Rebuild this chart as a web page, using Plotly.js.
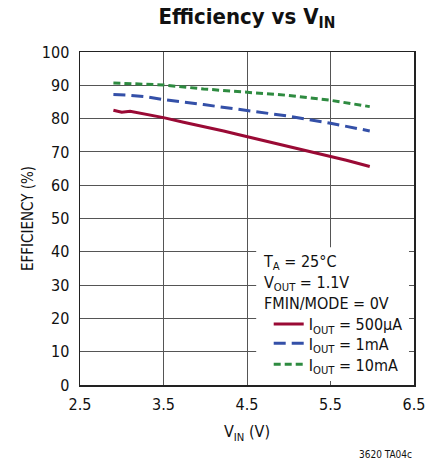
<!DOCTYPE html>
<html><head><meta charset="utf-8">
<script src="https://cdn.plot.ly/plotly-3.0.1.min.js"></script>
<style>body{margin:0;background:#fff}#c{width:440px;height:464px}</style>
</head><body><div id="c"></div>
<script>
const FONT = '"Liberation Sans Narrow", "DejaVu Sans Condensed", "Liberation Sans", sans-serif';
const vin500 = [2.9, 3.0, 3.1, 3.26, 3.5, 3.74, 3.82, 4.02, 4.22, 4.38, 4.5, 4.66, 4.9, 5.05, 5.29, 5.5, 5.69, 5.97];
const eff500 = [82.5, 81.9, 82.2, 81.5, 80.3, 78.9, 78.5, 77.5, 76.3, 75.3, 74.6, 73.7, 72.3, 71.3, 70.0, 68.8, 67.5, 65.6];
const vin1m = [2.9, 3.1, 3.3, 3.5, 3.98, 4.5, 4.98, 5.5, 5.97];
const eff1m = [87.2, 87.0, 86.5, 85.7, 84.2, 82.5, 80.8, 78.6, 76.3];
const vin10m = [2.9, 3.18, 3.5, 3.98, 4.5, 4.98, 5.5, 5.97];
const eff10m = [90.7, 90.5, 90.1, 88.9, 88.0, 87.0, 85.5, 83.6];
const xTicks = [2.5, 3.5, 4.5, 5.5, 6.5];
const yTicks = [0, 10, 20, 30, 40, 50, 60, 70, 80, 90, 100];
const names = ['I<sub>OUT</sub> = 500µA', 'I<sub>OUT</sub> = 1mA', 'I<sub>OUT</sub> = 10mA'];
const header = 'T<sub>A</sub> = 25°C<br>V<sub>OUT</sub> = 1.1V<br>FMIN/MODE = 0V';

const traces = [
  {x: vin500, y: eff500, name: names[0], mode: 'lines', legend: 'legend', line: {color: '#9a0a35', width: 3}},
  {x: vin1m, y: eff1m, name: names[1], mode: 'lines', legend: 'legend2', line: {color: '#3450a8', width: 3, dash: '12px,6px'}},
  {x: vin10m, y: eff10m, name: names[2], mode: 'lines', legend: 'legend3', line: {color: '#2e8b40', width: 3, dash: '7px,4px'}}
];
const axisCommon = {
  showline: true, linecolor: '#222', linewidth: 1.5, mirror: true,
  showgrid: true, gridcolor: '#555', gridwidth: 1, zeroline: false,
  ticks: '', tickfont: {family: FONT, size: 16, color: '#111'}
};
function leg(y) {
  return {x: 0.565, y: y, xanchor: 'left', yanchor: 'middle', bgcolor: 'rgba(0,0,0,0)', borderwidth: 0,
    font: {family: FONT, size: 16, color: '#111'}, tracegroupgap: 0, itemwidth: 30};
}
const layout = {
  width: 440, height: 464,
  margin: {l: 80, r: 26, t: 52, b: 79},
  paper_bgcolor: '#fff', plot_bgcolor: '#fff',
  title: {text: '<b>Efficiency vs V<sub>IN</sub></b>', x: 0.561, xanchor: 'center', y: 0.982, yanchor: 'top',
          font: {family: FONT, size: 22, color: '#111'}},
  xaxis: Object.assign({}, axisCommon, {range: [2.5, 6.5], tickvals: xTicks, ticktext: xTicks.map(v => v.toFixed(1)),
    ticklabelstandoff: 4,
    title: {text: 'V<sub>IN</sub> (V)', font: {family: FONT, size: 16, color: '#111'}, standoff: 13}}),
  yaxis: Object.assign({}, axisCommon, {range: [0, 100], tickvals: yTicks, ticklabelstandoff: 6,
    title: {text: 'EFFICIENCY (%)', font: {family: FONT, size: 15, color: '#111'}, standoff: 4}}),
  shapes: [{type: 'rect', xref: 'x', yref: 'y', x0: 4.61, x1: 6.44, y0: 1.2, y1: 41.4,
            fillcolor: '#fff', line: {width: 0}, layer: 'above'}],
  showlegend: true,
  legend: leg(0.183),
  legend2: leg(0.125),
  legend3: leg(0.062),
  annotations: [
    {text: header, xref: 'paper', yref: 'paper', x: 0.542, y: 0.405, xanchor: 'left', yanchor: 'top', align: 'left',
     showarrow: false, font: {family: FONT, size: 16, color: '#111'}},
    {text: '3620 TA04c', xref: 'paper', yref: 'paper', x: 1.0, y: -0.21, xanchor: 'right', yanchor: 'middle',
     showarrow: false, font: {family: FONT, size: 10, color: '#111'}}]
};
Plotly.newPlot('c', traces, layout, {displayModeBar: false, staticPlot: true});
</script></body></html>
